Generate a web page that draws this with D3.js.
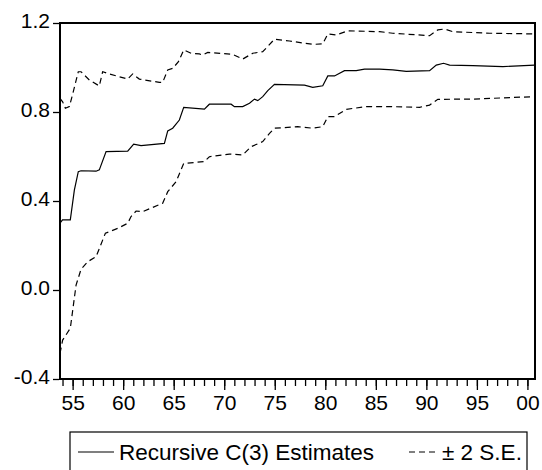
<!DOCTYPE html>
<html>
<head>
<meta charset="utf-8">
<script src="https://cdn.jsdelivr.net/npm/d3@7/dist/d3.min.js"></script>
<style>
  html, body { margin: 0; padding: 0; background: #fff; }
  svg text { font-family: "Liberation Sans", Arial, Helvetica, sans-serif; fill: #000; }
</style>
</head>
<body>
<svg id="chart" width="542" height="470"></svg>
<script>
// ---- Data ----
const estimate = [
  [1953.75, 0.301], [1954.0, 0.315], [1954.77, 0.315], [1955.17, 0.449], [1955.56, 0.532],
  [1955.83, 0.536], [1957.32, 0.534], [1957.64, 0.540], [1958.31, 0.622], [1960.45, 0.624],
  [1961.04, 0.656], [1961.77, 0.649], [1964.08, 0.659], [1964.41, 0.715], [1964.90, 0.727],
  [1965.56, 0.764], [1965.99, 0.821], [1968.04, 0.813], [1968.53, 0.835], [1970.68, 0.835],
  [1971.01, 0.824], [1971.83, 0.824], [1972.50, 0.839], [1972.99, 0.858], [1973.32, 0.851],
  [1973.81, 0.869], [1974.31, 0.896], [1974.97, 0.924], [1977.94, 0.921], [1978.76, 0.911],
  [1979.75, 0.918], [1980.25, 0.962], [1980.91, 0.962], [1981.90, 0.986], [1983.06, 0.986],
  [1983.88, 0.993], [1985.37, 0.993], [1986.68, 0.989], [1988.01, 0.983], [1990.32, 0.986],
  [1990.98, 1.011], [1991.70, 1.019], [1992.30, 1.011], [1994.60, 1.008], [1997.57, 1.004],
  [2000.70, 1.011]
];
const upperBand = [
  [1953.75, 0.861], [1954.01, 0.846], [1954.28, 0.817], [1954.67, 0.824], [1954.94, 0.869],
  [1955.56, 0.981], [1955.83, 0.981], [1956.65, 0.944], [1957.64, 0.917], [1957.97, 0.981],
  [1958.63, 0.971], [1960.45, 0.948], [1960.94, 0.971], [1961.60, 0.948], [1963.58, 0.933],
  [1963.91, 0.933], [1964.41, 0.989], [1964.90, 0.996], [1965.47, 1.026], [1965.99, 1.079],
  [1966.72, 1.064], [1967.54, 1.061], [1967.87, 1.056], [1968.37, 1.068], [1970.84, 1.059],
  [1971.83, 1.038], [1972.82, 1.064], [1973.81, 1.071], [1974.97, 1.127], [1976.46, 1.119],
  [1978.76, 1.104], [1979.75, 1.106], [1980.25, 1.151], [1981.08, 1.146], [1982.23, 1.165],
  [1985.37, 1.161], [1986.68, 1.154], [1990.32, 1.143], [1991.14, 1.169], [1991.80, 1.173],
  [1992.62, 1.161], [1996.26, 1.154], [2000.70, 1.151]
];
const lowerBand = [
  [1953.75, -0.285], [1954.01, -0.225], [1954.77, -0.172], [1955.34, 0.022], [1955.83, 0.093],
  [1956.49, 0.127], [1957.32, 0.150], [1958.24, 0.255], [1959.46, 0.277], [1960.45, 0.300],
  [1960.78, 0.330], [1961.28, 0.355], [1961.93, 0.352], [1963.91, 0.390], [1964.41, 0.442],
  [1965.24, 0.487], [1965.99, 0.569], [1968.04, 0.577], [1968.53, 0.599], [1970.51, 0.611],
  [1971.83, 0.607], [1972.66, 0.644], [1973.81, 0.667], [1974.48, 0.704], [1974.97, 0.727],
  [1977.28, 0.734], [1978.76, 0.727], [1979.75, 0.734], [1980.25, 0.779], [1980.91, 0.779],
  [1982.07, 0.812], [1984.06, 0.824], [1986.68, 0.824], [1989.33, 0.821], [1990.32, 0.831],
  [1991.14, 0.857], [1994.60, 0.858], [2000.70, 0.869]
];
const xMajorTicks = [1955, 1960, 1965, 1970, 1975, 1980, 1985, 1990, 1995, 2000];
const xMinorTicks = d3.range(1954, 2001);
const yTicks = [-0.4, 0.0, 0.4, 0.8, 1.2];
const legendLabels = ["Recursive C(3) Estimates", "\u00B1 2 S.E."];

// ---- Layout ----
const svg = d3.select("#chart");
const plot = { left: 60, top: 23, right: 535, bottom: 379 };

const x = d3.scaleLinear().domain([1953.75, 2000.75]).range([plot.left, plot.right]);
const y = d3.scaleLinear().domain([-0.4, 1.2]).range([plot.bottom, plot.top]);

// Series
const line = d3.line().x(d => x(d[0])).y(d => y(d[1]));
svg.append("path").datum(upperBand).attr("d", line)
  .attr("fill", "none").attr("stroke", "#000").attr("stroke-width", 1.2).attr("stroke-dasharray", "6,4");
svg.append("path").datum(lowerBand).attr("d", line)
  .attr("fill", "none").attr("stroke", "#000").attr("stroke-width", 1.2).attr("stroke-dasharray", "6,4");
svg.append("path").datum(estimate).attr("d", line)
  .attr("fill", "none").attr("stroke", "#000").attr("stroke-width", 1.2);

// Frame
svg.append("rect")
  .attr("x", plot.left).attr("y", plot.top)
  .attr("width", plot.right - plot.left).attr("height", plot.bottom - plot.top)
  .attr("fill", "none").attr("stroke", "#000").attr("stroke-width", 2);

// X axis: minor ticks
const xMinor = svg.append("g").attr("transform", `translate(0,${plot.bottom + 1})`)
  .call(d3.axisBottom(x).tickValues(xMinorTicks).tickSize(6).tickFormat(""));
xMinor.select(".domain").remove();
xMinor.selectAll(".tick line").attr("stroke", "#000").attr("stroke-width", 1.3);

// X axis: major ticks with labels
const xMajor = svg.append("g").attr("transform", `translate(0,${plot.bottom + 1})`)
  .call(d3.axisBottom(x).tickValues(xMajorTicks).tickSize(10).tickPadding(4)
    .tickFormat(d => String(d % 100).padStart(2, "0")));
xMajor.select(".domain").remove();
xMajor.selectAll(".tick line").attr("stroke", "#000").attr("stroke-width", 1.3);
xMajor.selectAll(".tick text").attr("font-size", 21).attr("fill", "#000")
  .attr("y", 0).attr("dy", 30);

// Y axis
const fmtY = d3.format(".1f");
const yAxis = svg.append("g").attr("transform", `translate(${plot.left - 1},0)`)
  .call(d3.axisLeft(y).tickValues(yTicks).tickSize(6).tickPadding(4)
    .tickFormat(d => fmtY(d).replace("\u2212", "-")));
yAxis.select(".domain").remove();
yAxis.selectAll(".tick line").attr("stroke", "#000").attr("stroke-width", 1.3);
yAxis.selectAll(".tick text").attr("font-size", 21).attr("fill", "#000")
  .attr("x", -9).attr("dy", 4);

// Legend
const lg = svg.append("g");
lg.append("rect").attr("x", 70).attr("y", 432).attr("width", 457).attr("height", 50)
  .attr("fill", "#fff").attr("stroke", "#000").attr("stroke-width", 1.2);
lg.append("line").attr("x1", 78).attr("x2", 114).attr("y1", 452).attr("y2", 452)
  .attr("stroke", "#000").attr("stroke-width", 1.2);
lg.append("text").attr("x", 119).attr("y", 460).attr("font-size", 22.5).text(legendLabels[0]);
lg.append("line").attr("x1", 409).attr("x2", 438).attr("y1", 452).attr("y2", 452)
  .attr("stroke", "#000").attr("stroke-width", 1.2).attr("stroke-dasharray", "6,4");
lg.append("text").attr("x", 442).attr("y", 460).attr("font-size", 22.5).text(legendLabels[1]);
</script>
</body>
</html>
